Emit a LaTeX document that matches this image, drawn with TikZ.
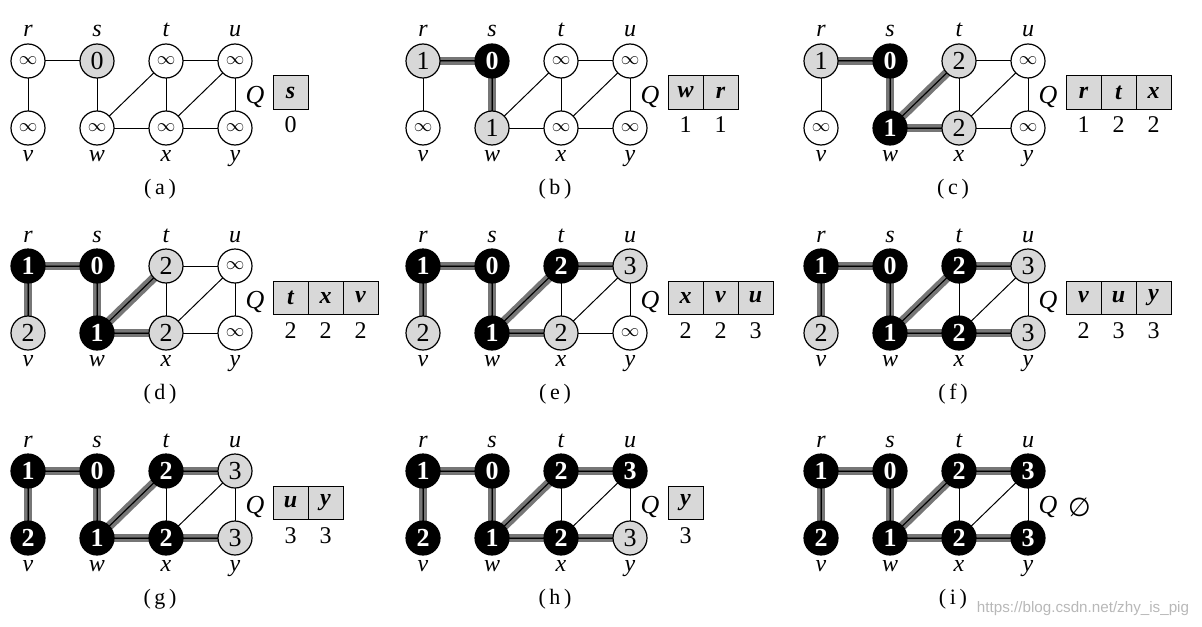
\documentclass[tikz,border=0pt]{standalone}
\usepackage{fontspec}
\setmainfont{Liberation Serif}
\newfontfamily\wmfont{Liberation Sans}
\newfontfamily\symfont{DejaVu Sans}
\usetikzlibrary{positioning,backgrounds}

\tikzset{
  vtx/.style={circle, draw=black, line width=0.6pt, minimum size=17pt, inner sep=0pt, font=\fontsize{13}{13}\selectfont},
  wht/.style={fill=white},
  gry/.style={fill=greyFill},
  blk/.style={fill=black, text=white, font=\fontsize{13}{13}\selectfont\bfseries},
  vname/.style={anchor=base, font=\fontsize{12}{12}\selectfont\itshape},
  plain/.style={draw=black, line width=0.5pt},
  treeedge/.style={draw=treeColour, line width=4.4pt, postaction={draw=black!75, line width=0.6pt}},
  qcell/.style={draw=black, line width=0.5pt, fill=greyFill, minimum width=17.5pt, minimum height=16.5pt, inner sep=0pt, font=\fontsize{12}{12}\selectfont\bfseries\itshape},
  qkey/.style={anchor=base, font=\fontsize{12}{12}\selectfont},
  qname/.style={inner sep=0pt, font=\fontsize{13}{13}\selectfont\itshape},
  ptag/.style={anchor=base, font=\fontsize{11}{11}\selectfont},
  wmark/.style={text=black!28, font=\wmfont\fontsize{7.6}{7.6}\selectfont},
}

% #1 panel, #2/#3 offset, #4 vertices, #5 tree edges, #6 queue
\newcommand{\drawPanel}[6]{%
  \begin{scope}[shift={(#2,#3)}]
    % Vertex positions
    \foreach \v/\vx/\vy in {r/0/0, s/69/0, t/138/0, u/207/0, v/0/67, w/69/67, x/138/67, y/207/67}
      \coordinate (#1\v c) at (\vx,\vy);

    % Vertices
    \foreach \v/\st/\d in {#4}
      \node[vtx,\st] (#1\v) at (#1\v c) {\d};

    % Vertex names
    \foreach \v in {r,s,t,u}
      \node[vname, yshift=12pt] (#1\v name) at (#1\v c) {\v};
    \foreach \v in {v,w,x,y}
      \node[vname, yshift=-16.5pt] (#1\v name) at (#1\v c) {\v};

    % Edges, breadth-first tree underneath
    \begin{pgfonlayer}{background}
      \ifx\relax#5\relax\else
        \foreach \a/\b in {#5}
          \draw[treeedge] (#1\a.center) -- (#1\b.center);
      \fi
      \foreach \a/\b in {r/s, r/v, s/w, w/t, w/x, t/x, t/u, x/u, x/y, u/y}
        \draw[plain] (#1\a.center) -- (#1\b.center);
    \end{pgfonlayer}

    % Queue
    \node[qname] (#1Q) at (227,36) {Q};
    \ifx\relax#6\relax\else
      \foreach \q/\k [count=\i] in {#6} {
        \node[qcell] (#1q\i) at (245+35*\i-17.5,31.5) {\q};
        \node[qkey] (#1k\i) at (245+35*\i-17.5,72) {\k};
      }
    \fi

    % Caption
    \node[ptag] (#1tag) at (132,133) {(\,#1\,)};
  \end{scope}
}

\begin{document}
\begin{tikzpicture}[x=0.5pt, y=-0.5pt]
    % Define colours
    \definecolor{greyFill}{HTML}{D8D8D8}
    \definecolor{treeColour}{HTML}{767676}

    \def\noDist{{\fontsize{9}{9}\selectfont$\infty$}}

    \useasboundingbox (0,0) rectangle (1202,626);

    % Row one
    \drawPanel{a}{28}{61}
      {r/wht/\noDist, s/gry/0, t/wht/\noDist, u/wht/\noDist, v/wht/\noDist, w/wht/\noDist, x/wht/\noDist, y/wht/\noDist}
      {}
      {s/0}
    \drawPanel{b}{423}{61}
      {r/gry/1, s/blk/0, t/wht/\noDist, u/wht/\noDist, v/wht/\noDist, w/gry/1, x/wht/\noDist, y/wht/\noDist}
      {r/s, s/w}
      {w/1, r/1}
    \drawPanel{c}{821}{61}
      {r/gry/1, s/blk/0, t/gry/2, u/wht/\noDist, v/wht/\noDist, w/blk/1, x/gry/2, y/wht/\noDist}
      {r/s, s/w, w/t, w/x}
      {r/1, t/2, x/2}

    % Row two
    \drawPanel{d}{28}{266}
      {r/blk/1, s/blk/0, t/gry/2, u/wht/\noDist, v/gry/2, w/blk/1, x/gry/2, y/wht/\noDist}
      {r/s, s/w, w/t, w/x, r/v}
      {t/2, x/2, v/2}
    \drawPanel{e}{423}{266}
      {r/blk/1, s/blk/0, t/blk/2, u/gry/3, v/gry/2, w/blk/1, x/gry/2, y/wht/\noDist}
      {r/s, s/w, w/t, w/x, r/v, t/u}
      {x/2, v/2, u/3}
    \drawPanel{f}{821}{266}
      {r/blk/1, s/blk/0, t/blk/2, u/gry/3, v/gry/2, w/blk/1, x/blk/2, y/gry/3}
      {r/s, s/w, w/t, w/x, r/v, t/u, x/y}
      {v/2, u/3, y/3}

    % Row three
    \drawPanel{g}{28}{471}
      {r/blk/1, s/blk/0, t/blk/2, u/gry/3, v/blk/2, w/blk/1, x/blk/2, y/gry/3}
      {r/s, s/w, w/t, w/x, r/v, t/u, x/y}
      {u/3, y/3}
    \drawPanel{h}{423}{471}
      {r/blk/1, s/blk/0, t/blk/2, u/blk/3, v/blk/2, w/blk/1, x/blk/2, y/gry/3}
      {r/s, s/w, w/t, w/x, r/v, t/u, x/y}
      {y/3}
    \drawPanel{i}{821}{471}
      {r/blk/1, s/blk/0, t/blk/2, u/blk/3, v/blk/2, w/blk/1, x/blk/2, y/blk/3}
      {r/s, s/w, w/t, w/x, r/v, t/u, x/y}
      {}

    % Empty queue
    \node[qname, right=5pt of iQ, font=\symfont\fontsize{13}{13}\selectfont] (iempty) {∅};

    % Watermark
    \node[wmark] (wm) at (1083,609) {https://blog.csdn.net/zhy\_is\_pig};

\end{tikzpicture}
\end{document}
